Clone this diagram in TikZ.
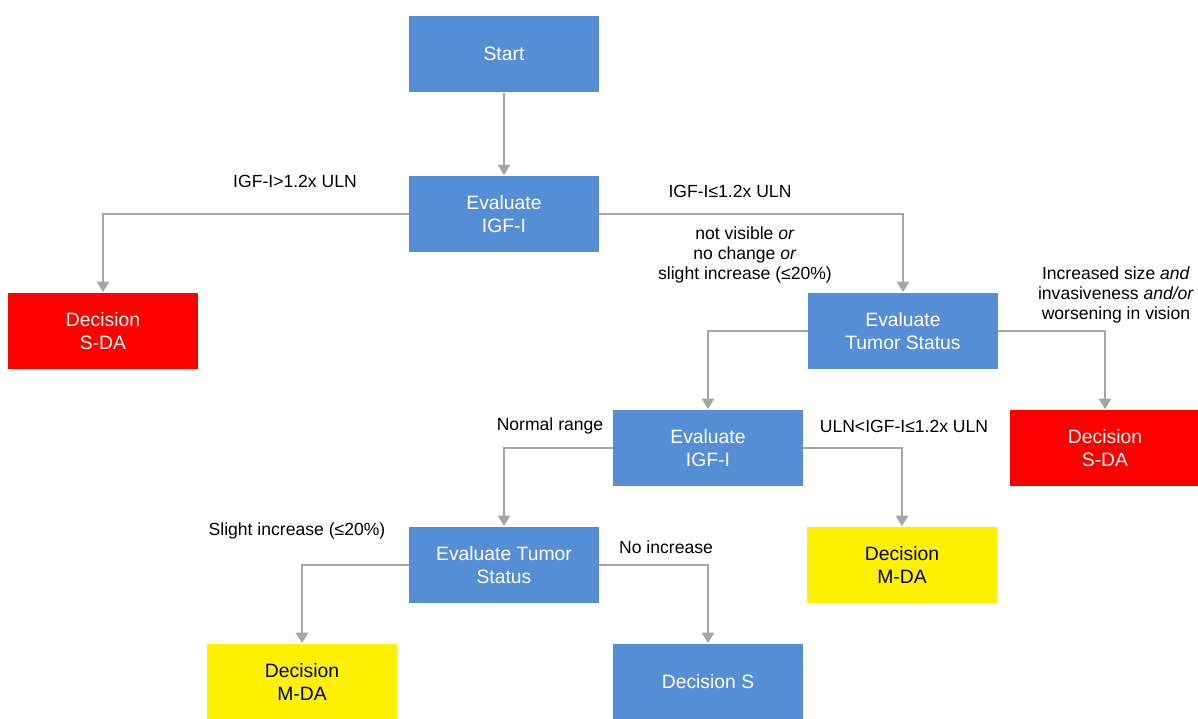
\documentclass[tikz,border=0pt]{standalone}
\usepackage{fontspec}
\setmainfont{Liberation Sans}
\usetikzlibrary{arrows.meta}

\definecolor{boxblue}{RGB}{85,142,213}
\definecolor{linegray}{RGB}{166,166,166}

\begin{document}
\begin{tikzpicture}[x=0.02cm,y=-0.02cm,
    box/.style={fill=boxblue,text=white,minimum width=3.8cm,minimum height=1.54cm,
      inner sep=0pt,align=center,font=\fontsize{11}{13}\selectfont},
    redbox/.style={box,fill=red},
    yelbox/.style={box,fill=yellow,text=black},
    lab/.style={align=center,inner sep=0pt,font=\fontsize{10}{11.4}\selectfont},
    conn/.style={draw=linegray,line width=1.1pt,-{Triangle[width=7pt,length=6pt]}}]
  \useasboundingbox (0,0) rectangle (1198,719);

  % boxes
  \node [box]    (start) at (504,54)   {Start};
  \node [box]    (igfa)  at (504,214)  {Evaluate\\IGF-I};
  \node [redbox] (sdaa)  at (103,331)  {Decision\\S-DA};
  \node [box]    (tuma)  at (903,331)  {Evaluate\\Tumor Status};
  \node [redbox] (sdab)  at (1105,448) {Decision\\S-DA};
  \node [box]    (igfb)  at (708,448)  {Evaluate\\IGF-I};
  \node [yelbox] (mdaa)  at (902,565)  {Decision\\M-DA};
  \node [box]    (tumb)  at (504,565)  {Evaluate Tumor\\Status};
  \node [yelbox] (mdab)  at (302,682)  {Decision\\M-DA};
  \node [box]    (decs)  at (708,682)  {Decision S};

  % connectors
  \draw [conn] (start) -- (igfa);
  \draw [conn] (igfa.west) -| (sdaa.north);
  \draw [conn] (igfa.east) -| (tuma.north);
  \draw [conn] (tuma.west) -| (igfb.north);
  \draw [conn] (tuma.east) -| (sdab.north);
  \draw [conn] (igfb.west) -| (tumb.north);
  \draw [conn] (igfb.east) -| (mdaa.north);
  \draw [conn] (tumb.west) -| (mdab.north);
  \draw [conn] (tumb.east) -| (decs.north);

  % labels
  \node [lab] (lhigh)   at (295,181)  {IGF-I>1.2x ULN};
  \node [lab] (llow)    at (730,191)  {IGF-I≤1.2x ULN};
  \node [lab] (lstable) at (745,255)  {not visible \textit{or}\\no change \textit{or}\\slight increase (≤20\%)};
  \node [lab] (lgrow)   at (1116,295) {Increased size \textit{and}\\invasiveness \textit{and/or}\\worsening in vision};
  \node [lab] (lnorm)   at (550,426)  {Normal range};
  \node [lab] (lmid)    at (904,426)  {ULN<IGF-I≤1.2x ULN};
  \node [lab] (lslight) at (297,531)  {Slight increase (≤20\%)};
  \node [lab] (lnone)   at (666,547)  {No increase};
\end{tikzpicture}
\end{document}
